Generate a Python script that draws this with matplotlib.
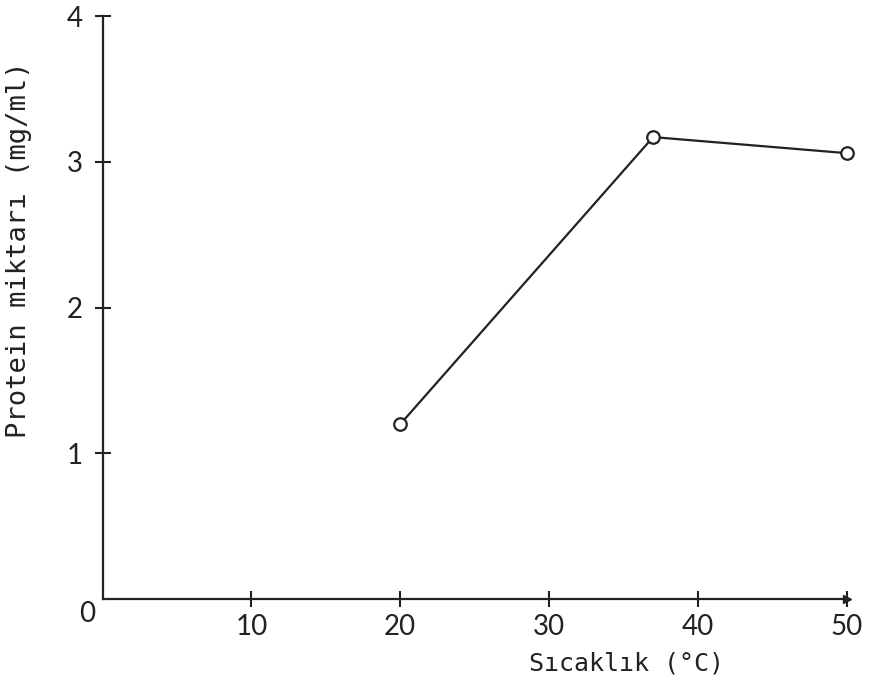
import matplotlib

matplotlib.use("Agg")
import matplotlib.pyplot as plt

# data
temperature = [20, 37, 50]
protein = [1.20, 3.17, 3.06]

x_ticks = [10, 20, 30, 40, 50]
y_ticks = [1, 2, 3, 4]

ink = "#222222"
plt.rcParams["font.family"] = ["Lato", "DejaVu Sans"]
label_font = ["DejaVu Sans Mono", "DejaVu Sans"]

fig = plt.figure(figsize=(8.7, 7.0), dpi=100)
ax = fig.add_axes([0.118, 0.144, 0.855, 0.833])

ax.plot(temperature, protein, color=ink, linewidth=1.6,
        marker="o", markersize=9, markerfacecolor="white",
        markeredgecolor=ink, markeredgewidth=1.6, clip_on=False, zorder=3)

ax.set_xlim(0, 50)
ax.set_ylim(0, 4)
ax.set_xticks(x_ticks)
ax.set_yticks(y_ticks)
ax.set_xticklabels([str(t) for t in x_ticks])
ax.set_yticklabels([str(t) for t in y_ticks])

for side in ("top", "right"):
    ax.spines[side].set_visible(False)
for side in ("left", "bottom"):
    ax.spines[side].set_color(ink)
    ax.spines[side].set_linewidth(1.6)

ax.tick_params(axis="both", direction="inout", length=12, width=1.5,
               color=ink, labelcolor=ink, labelsize=20)
ax.tick_params(axis="x", pad=5)
ax.tick_params(axis="y", pad=8)

# the origin label sits at the corner, below-left of the axes
ax.annotate("0", xy=(0, 0), xytext=(-11, -11), textcoords="offset points",
            ha="center", va="center", fontsize=20, color=ink,
            annotation_clip=False)

# small arrow head at the end of the x axis
ax.plot(1, 0, ">", color=ink, markersize=6, transform=ax.transAxes, clip_on=False)

ax.set_xlabel("Sıcaklık (°C)", fontsize=18, color=ink, family=label_font)
ax.xaxis.set_label_coords(0.704, -0.09)
ax.set_ylabel("Protein miktarı (mg/ml)", fontsize=19.5, color=ink, family=label_font)
ax.yaxis.set_label_coords(-0.095, 0.60)

fig.savefig("out.png", dpi=100)
